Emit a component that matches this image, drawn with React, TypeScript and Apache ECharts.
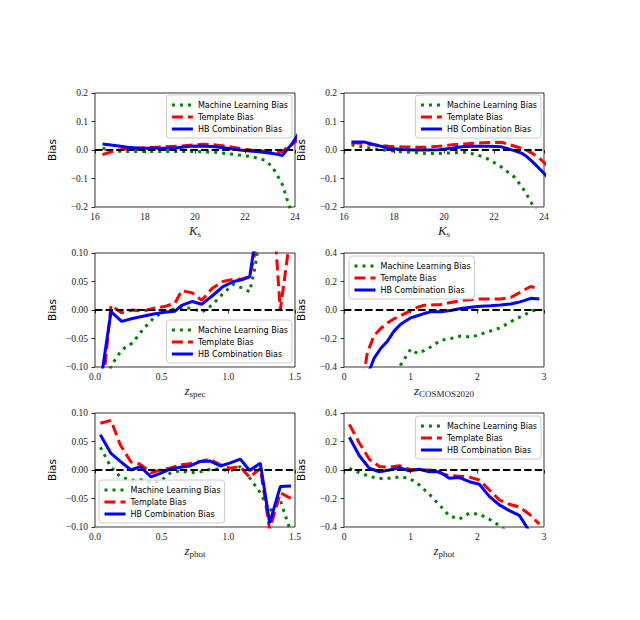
import React, { useEffect, useRef } from "react";
import * as echarts from "echarts";

const seriesNames = ["Machine Learning Bias", "Template Bias", "HB Combination Bias"];

// Panel 1 (top-left) and panel 2 (top-right): K_s magnitude bins
const ksBins = [16.3, 16.8, 17.3, 17.8, 18.3, 18.8, 19.3, 19.8, 20.3, 20.8, 21.3, 21.8, 22.3, 22.8, 23.1, 23.3, 23.5, 23.7, 23.9, 24.3];
const ml1 = [0.006, -0.004, -0.005, -0.005, -0.005, -0.005, -0.005, -0.005, -0.006, -0.008, -0.013, -0.018, -0.024, -0.036, -0.06, -0.09, -0.122, -0.178, -0.23, -0.35];
const tpl1 = [-0.016, -0.002, 0.004, 0.007, 0.009, 0.011, 0.013, 0.017, 0.02, 0.018, 0.013, 0.005, -0.001, -0.004, -0.006, -0.007, -0.006, 0.01, 0.02, 0.05];
const hb1 = [0.021, 0.016, 0.01, 0.006, 0.006, 0.006, 0.008, 0.013, 0.014, 0.011, 0.006, 0.0, -0.004, -0.009, -0.012, -0.015, -0.019, 0.003, 0.024, 0.08];

const ml2 = [0.018, 0.01, 0.003, -0.002, -0.006, -0.009, -0.012, -0.012, -0.01, -0.008, -0.016, -0.033, -0.06, -0.094, -0.127, -0.155, -0.186, -0.215, -0.25, -0.32];
const tpl2 = [0.025, 0.023, 0.017, 0.013, 0.011, 0.01, 0.01, 0.013, 0.018, 0.021, 0.024, 0.026, 0.027, 0.014, 0.006, -0.001, -0.01, -0.022, -0.035, -0.07];
const hb2 = [0.028, 0.028, 0.017, 0.006, 0.002, 0.0, 0.0, 0.001, 0.006, 0.012, 0.013, 0.013, 0.011, -0.002, -0.011, -0.022, -0.038, -0.055, -0.073, -0.11];

// Panel 3 (middle-left): z_spec bins
const zspecBins = [0.04, 0.12, 0.2, 0.28, 0.36, 0.44, 0.52, 0.6, 0.65, 0.73, 0.8, 0.88, 0.96, 1.04, 1.1, 1.16, 1.2, 1.25, 1.3, 1.39, 1.47];
const ml3 = [-0.2, -0.098, -0.07, -0.058, -0.034, -0.014, -0.002, 0.002, 0.004, 0.003, -0.004, 0.009, 0.029, 0.045, 0.039, 0.032, 0.075, 0.15, 0.3, 0.4, 0.4];
const tpl3 = [-0.18, 0.008, -0.005, 0.0, -0.002, 0.003, 0.006, 0.012, 0.034, 0.03, 0.017, 0.038, 0.05, 0.054, 0.054, 0.059, 0.1, 0.2, 0.3, 0.0, 0.14];
const hb3 = [-0.13, -0.003, -0.02, -0.015, -0.011, -0.007, -0.004, -0.002, 0.008, 0.015, 0.01, 0.025, 0.041, 0.05, 0.053, 0.058, 0.12, 0.3, 0.4, 0.5, 0.5];

// Panel 4 (middle-right): z_COSMOS2020 bins
const zcosBins = [0.25, 0.35, 0.45, 0.55, 0.65, 0.75, 0.85, 1.0, 1.1, 1.2, 1.3, 1.45, 1.6, 1.75, 1.9, 2.05, 2.2, 2.35, 2.5, 2.6, 2.7, 2.8, 2.93];
const ml4 = [-0.9, -0.9, -0.85, -0.8, -0.7, -0.55, -0.385, -0.275, -0.305, -0.285, -0.26, -0.213, -0.2, -0.183, -0.19, -0.17, -0.147, -0.124, -0.082, -0.058, -0.037, -0.008, 0.005];
const tpl4 = [-0.6, -0.3, -0.18, -0.13, -0.092, -0.062, -0.04, -0.005, 0.018, 0.033, 0.035, 0.038, 0.052, 0.066, 0.074, 0.077, 0.077, 0.078, 0.088, 0.113, 0.14, 0.165, 0.148];
const hb4 = [-0.7, -0.46, -0.34, -0.27, -0.22, -0.148, -0.1, -0.055, -0.04, -0.025, -0.013, -0.012, -0.004, 0.01, 0.02, 0.027, 0.03, 0.035, 0.042, 0.052, 0.066, 0.082, 0.078];

// Panel 5 (bottom-left): z_phot bins (0-1.5)
const zphotBinsA = [0.04, 0.12, 0.19, 0.27, 0.34, 0.42, 0.49, 0.56, 0.64, 0.71, 0.79, 0.86, 0.94, 1.01, 1.09, 1.16, 1.24, 1.31, 1.39, 1.47];
const ml5 = [0.04, 0.005, -0.012, -0.018, -0.017, -0.022, -0.02, -0.006, -0.001, -0.005, -0.003, 0.001, 0.002, -0.002, 0.006, -0.014, -0.04, -0.072, -0.053, -0.11];
const tpl5 = [0.082, 0.087, 0.044, 0.014, 0.01, -0.005, 0.0, 0.003, 0.009, 0.011, 0.015, 0.019, 0.009, 0.003, 0.006, -0.013, 0.003, -0.105, -0.04, -0.05];
const hb5 = [0.062, 0.029, 0.015, 0.0, 0.006, -0.012, -0.006, 0.001, 0.005, 0.007, 0.015, 0.016, 0.007, 0.012, 0.019, -0.001, 0.012, -0.093, -0.029, -0.028];

// Panel 6 (bottom-right): z_phot bins (0-3)
const zphotBinsB = [0.08, 0.23, 0.38, 0.53, 0.68, 0.83, 0.98, 1.13, 1.28, 1.43, 1.58, 1.73, 1.88, 2.03, 2.18, 2.33, 2.48, 2.63, 2.78, 2.93];
const ml6 = [0.012, -0.019, -0.045, -0.06, -0.058, -0.048, -0.058, -0.105, -0.17, -0.245, -0.322, -0.345, -0.303, -0.31, -0.345, -0.39, -0.44, -0.5, -0.55, -0.6];
const tpl6 = [0.32, 0.19, 0.075, 0.025, 0.02, 0.03, 0.005, 0.0, 0.0, -0.02, -0.04, -0.043, -0.05, -0.07, -0.14, -0.21, -0.24, -0.26, -0.31, -0.38];
const hb6 = [0.23, 0.1, 0.012, -0.012, 0.0, 0.016, -0.005, 0.005, -0.012, -0.013, -0.058, -0.053, -0.082, -0.1, -0.185, -0.245, -0.285, -0.318, -0.43, -0.55];

// Axis definitions
const xKs = { min: 16, max: 24, interval: 2, dec: 0, main: "K", sub: "s" };
const xZspec = { min: 0, max: 1.5, interval: 0.5, dec: 1, main: "z", sub: "spec" };
const xZcos = { min: 0, max: 3, interval: 1, dec: 0, main: "z", sub: "COSMOS2020" };
const xZphotA = { min: 0, max: 1.5, interval: 0.5, dec: 1, main: "z", sub: "phot" };
const xZphotB = { min: 0, max: 3, interval: 1, dec: 0, main: "z", sub: "phot" };
const yWide = { min: -0.2, max: 0.2, interval: 0.1, dec: 1 };
const yNarrow = { min: -0.1, max: 0.1, interval: 0.05, dec: 2 };
const yBig = { min: -0.4, max: 0.4, interval: 0.2, dec: 1 };

const panels = [
  { x: ksBins, ml: ml1, tpl: tpl1, hb: hb1, xa: xKs, ya: yWide, legend: { right: 348, top: 95 } },
  { x: ksBins, ml: ml2, tpl: tpl2, hb: hb2, xa: xKs, ya: yWide, legend: { right: 99, top: 95 } },
  { x: zspecBins, ml: ml3, tpl: tpl3, hb: hb3, xa: xZspec, ya: yNarrow, legend: { right: 348, bottom: 257 } },
  { x: zcosBins, ml: ml4, tpl: tpl4, hb: hb4, xa: xZcos, ya: yBig, legend: { left: 349, top: 256 } },
  { x: zphotBinsA, ml: ml5, tpl: tpl5, hb: hb5, xa: xZphotA, ya: yNarrow, legend: { left: 99, bottom: 97 } },
  { x: zphotBinsB, ml: ml6, tpl: tpl6, hb: hb6, xa: xZphotB, ya: yBig, legend: { right: 99, top: 416 } },
];

const gridBoxes = [
  { left: 95, top: 93 },
  { left: 344, top: 93 },
  { left: 95, top: 253 },
  { left: 344, top: 253 },
  { left: 95, top: 413 },
  { left: 344, top: 413 },
];

const fmt = (v: number, dec: number) => {
  const s = Math.abs(v) < 1e-9 ? (0).toFixed(dec) : Math.abs(v).toFixed(dec);
  return v < -1e-9 ? "\u2212" + s : s;
};

const pairs = (xs: number[], ys: number[]) => xs.map((x, i) => [x, ys[i]]);

export default function App() {
  const ref = useRef<HTMLDivElement>(null);
  useEffect(() => {
    if (!ref.current) return;
    const chart = echarts.init(ref.current, null, { renderer: "svg" });
    const grid: any[] = [];
    const xAxis: any[] = [];
    const yAxis: any[] = [];
    const series: any[] = [];
    const legend: any[] = [];
    panels.forEach((p, i) => {
      grid.push({
        left: gridBoxes[i].left,
        top: gridBoxes[i].top,
        width: 200,
        height: 114,
        show: true,
        borderColor: "#000",
        borderWidth: 0.8,
        backgroundColor: "transparent",
      });
      xAxis.push({
        type: "value",
        gridIndex: i,
        min: p.xa.min,
        max: p.xa.max,
        interval: p.xa.interval,
        axisLine: { show: false },
        axisTick: { show: true, length: 3.5, lineStyle: { color: "#000", width: 0.8 } },
        splitLine: { show: false },
        axisLabel: {
          margin: 5,
          fontSize: 9.5,
          fontFamily: "Liberation Serif",
          color: "#222",
          formatter: (v: number) => fmt(v, p.xa.dec),
        },
        name: "{m|" + p.xa.main + "}{s|" + p.xa.sub + "}",
        nameLocation: "middle",
        nameGap: 15,
        nameTextStyle: {
          rich: {
            m: { fontSize: 13, fontStyle: "italic", fontFamily: "Liberation Serif", color: "#222", lineHeight: 16 },
            s: { fontSize: 9, fontFamily: "Liberation Serif", color: "#222", verticalAlign: "bottom", lineHeight: 10 },
          },
        },
      });
      yAxis.push({
        type: "value",
        gridIndex: i,
        min: p.ya.min,
        max: p.ya.max,
        interval: p.ya.interval,
        axisLine: { show: false },
        axisTick: { show: true, length: 3.5, lineStyle: { color: "#000", width: 0.8 } },
        splitLine: { show: false },
        axisLabel: {
          margin: 7,
          fontSize: 9.5,
          fontFamily: "Liberation Serif",
          color: "#222",
          formatter: (v: number) => fmt(v, p.ya.dec),
        },
        name: "Bias",
        nameLocation: "middle",
        nameGap: 38,
        nameTextStyle: { fontSize: 10.5, fontFamily: "DejaVu Sans", color: "#000" },
      });
      series.push({
        name: seriesNames[0],
        type: "line",
        xAxisIndex: i,
        yAxisIndex: i,
        data: pairs(p.x, p.ml),
        symbol: "none",
        clip: true,
        z: 2,
        lineStyle: { color: "#008000", width: 3, type: [3, 5] },
        itemStyle: { color: "#008000" },
      });
      series.push({
        name: seriesNames[1],
        type: "line",
        xAxisIndex: i,
        yAxisIndex: i,
        data: pairs(p.x, p.tpl),
        symbol: "none",
        clip: true,
        z: 3,
        lineStyle: { color: "#ff0000", width: 3, type: [11, 5] },
        itemStyle: { color: "#ff0000" },
      });
      series.push({
        name: seriesNames[2],
        type: "line",
        xAxisIndex: i,
        yAxisIndex: i,
        data: pairs(p.x, p.hb),
        symbol: "none",
        clip: true,
        z: 4,
        lineStyle: { color: "#0000ff", width: 3, type: "solid" },
        itemStyle: { color: "#0000ff" },
      });
      series.push({
        type: "line",
        xAxisIndex: i,
        yAxisIndex: i,
        data: [
          [p.xa.min, 0],
          [p.xa.max, 0],
        ],
        symbol: "none",
        silent: true,
        z: 5,
        lineStyle: { color: "#000", width: 2, type: [7.4, 3.2] },
      });
      legend.push({
        ...p.legend,
        orient: "vertical",
        data: seriesNames,
        selectedMode: false,
        itemWidth: 21,
        itemHeight: 8,
        itemGap: 4,
        padding: [6, 4, 5, 4],
        backgroundColor: "rgba(255,255,255,0.8)",
        borderColor: "#cccccc",
        borderWidth: 1,
        borderRadius: 3,
        itemStyle: { opacity: 0, borderWidth: 0 },
        lineStyle: { width: 3 },
        textStyle: { fontSize: 8, fontFamily: "DejaVu Sans", color: "#000" },
      });
    });
    chart.setOption({
      animation: false,
      backgroundColor: "#fff",
      grid,
      xAxis,
      yAxis,
      series,
      legend,
    });
    return () => chart.dispose();
  }, []);
  return (
    <div
      ref={ref}
      style={{ position: "fixed", left: 0, top: 0, width: 640, height: 620, background: "#fff" }}
    />
  );
}
